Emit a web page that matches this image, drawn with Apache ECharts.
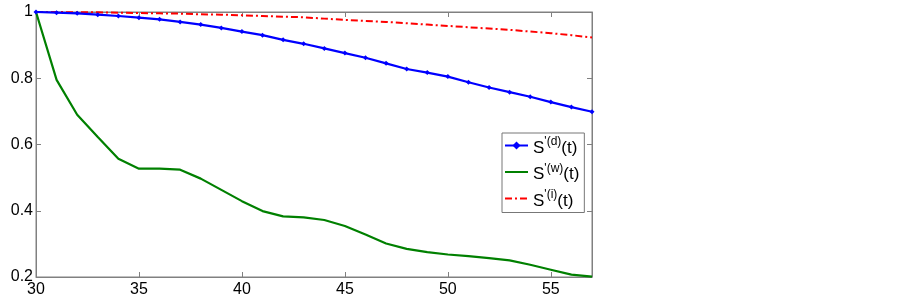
<!DOCTYPE html>
<html>
<head>
<meta charset="utf-8">
<script src="https://cdn.jsdelivr.net/npm/echarts@6/dist/echarts.min.js"></script>
<style>
  html, body { margin: 0; padding: 0; background: #fff; }
  #chart { width: 903px; height: 298px; }
</style>
</head>
<body>
<div id="chart"></div>
<script>
// time values
var tValues = [30, 31, 32, 33, 34, 35, 36, 37, 38, 39, 40, 41, 42, 43,
               44, 45, 46, 47, 48, 49, 50, 51, 52, 53, 54, 55, 56, 57];

// S'(d)(t)
var sD = [1.000, 0.998, 0.996, 0.992, 0.988, 0.983, 0.978, 0.970, 0.962, 0.952,
          0.941, 0.930, 0.916, 0.904, 0.890, 0.876, 0.862, 0.845, 0.828, 0.817,
          0.805, 0.788, 0.772, 0.758, 0.744, 0.728, 0.713, 0.699];

// S'(w)(t)
var sW = [1.000, 0.795, 0.690, 0.623, 0.557, 0.527, 0.527, 0.524, 0.497, 0.463,
          0.429, 0.399, 0.383, 0.380, 0.372, 0.354, 0.328, 0.301, 0.285, 0.275,
          0.268, 0.263, 0.257, 0.250, 0.237, 0.222, 0.207, 0.201];

// S'(i)(t)
var sI = [1.000, 1.000, 0.999, 0.999, 0.998, 0.997, 0.996, 0.995, 0.993, 0.992,
          0.990, 0.988, 0.986, 0.984, 0.980, 0.976, 0.973, 0.970, 0.966, 0.962,
          0.958, 0.954, 0.950, 0.946, 0.941, 0.936, 0.930, 0.923];

var xTicks = [30, 35, 40, 45, 50, 55];
var yTicks = [0.2, 0.4, 0.6, 0.8, 1];

var legendSup = { d: "'(d)", w: "'(w)", i: "'(i)" };

function pairs(ys) {
    var out = [];
    for (var k = 0; k < tValues.length; k++) {
        out.push([tValues[k], ys[k]]);
    }
    return out;
}

var font = 'Liberation Sans, Arial, sans-serif';
var axisColor = '#808080';

var myChart = echarts.init(document.getElementById('chart'), null, { renderer: 'canvas' });

var option = {
    backgroundColor: '#ffffff',
    animation: false,
    grid: {
        left: 36, right: 311, top: 12, bottom: 20,
        show: true, borderColor: axisColor, borderWidth: 1
    },
    legend: {
        orient: 'vertical',
        left: 502, top: 133,
        padding: [3, 5, 3, 2],
        itemGap: 6,
        itemWidth: 23,
        itemHeight: 10,
        borderColor: '#777',
        borderWidth: 1,
        borderRadius: 0,
        backgroundColor: '#fff',
        data: [
            { name: 'd' },
            { name: 'w', itemStyle: { opacity: 0 } },
            { name: 'i', itemStyle: { opacity: 0 } }
        ],
        formatter: function (name) {
            return '{b|S}{s|' + legendSup[name] + '}{b|(t)}';
        },
        textStyle: {
            fontFamily: font,
            rich: {
                b: { fontSize: 17, color: '#000', fontFamily: font, padding: [5, 0, 0, 0] },
                s: { fontSize: 12, color: '#000', fontFamily: font, padding: [0, 0, 7, 0] }
            }
        }
    },
    xAxis: [{
        type: 'value',
        min: 30, max: 57, interval: 5,
        axisLine: { show: true, lineStyle: { color: axisColor } },
        axisTick: { show: true, inside: true, length: 5, lineStyle: { color: axisColor } },
        axisLabel: {
            color: '#000', fontSize: 16, fontFamily: font, margin: 5,
            showMaxLabel: false,
            formatter: function (v) { return xTicks.indexOf(v) >= 0 ? String(v) : ''; }
        },
        splitLine: { show: false }
    }, {
        type: 'value', position: 'top',
        min: 30, max: 57, interval: 5,
        axisLine: { show: true, lineStyle: { color: axisColor } },
        axisTick: { show: true, inside: true, length: 5, lineStyle: { color: axisColor } },
        axisLabel: { show: false },
        splitLine: { show: false }
    }],
    yAxis: [{
        type: 'value',
        min: 0.2, max: 1, interval: 0.2,
        axisLine: { show: true, lineStyle: { color: axisColor } },
        axisTick: { show: true, inside: true, length: 5, lineStyle: { color: axisColor } },
        axisLabel: {
            color: '#000', fontSize: 16, fontFamily: font, margin: 3,
            formatter: function (v) {
                var r = Math.round(v * 10) / 10;
                return yTicks.indexOf(r) >= 0 ? String(r) : '';
            }
        },
        splitLine: { show: false }
    }, {
        type: 'value', position: 'right',
        min: 0.2, max: 1, interval: 0.2,
        axisLine: { show: true, lineStyle: { color: axisColor } },
        axisTick: { show: true, inside: true, length: 5, lineStyle: { color: axisColor } },
        axisLabel: { show: false },
        splitLine: { show: false }
    }],
    series: [
        {
            name: 'i', type: 'line', data: pairs(sI),
            symbol: 'none',
            lineStyle: { color: '#ff0000', width: 2, type: [7, 3, 2, 3] },
            itemStyle: { color: '#ff0000' },
            z: 2
        },
        {
            name: 'w', type: 'line', data: pairs(sW),
            symbol: 'none',
            lineStyle: { color: '#008000', width: 2.2 },
            itemStyle: { color: '#008000' },
            z: 3
        },
        {
            name: 'd', type: 'line', data: pairs(sD),
            symbol: 'diamond', symbolSize: 5, showSymbol: true,
            lineStyle: { color: '#0000ff', width: 2.2 },
            itemStyle: { color: '#0000ff' },
            z: 4
        }
    ]
};

myChart.setOption(option);
</script>
</body>
</html>
